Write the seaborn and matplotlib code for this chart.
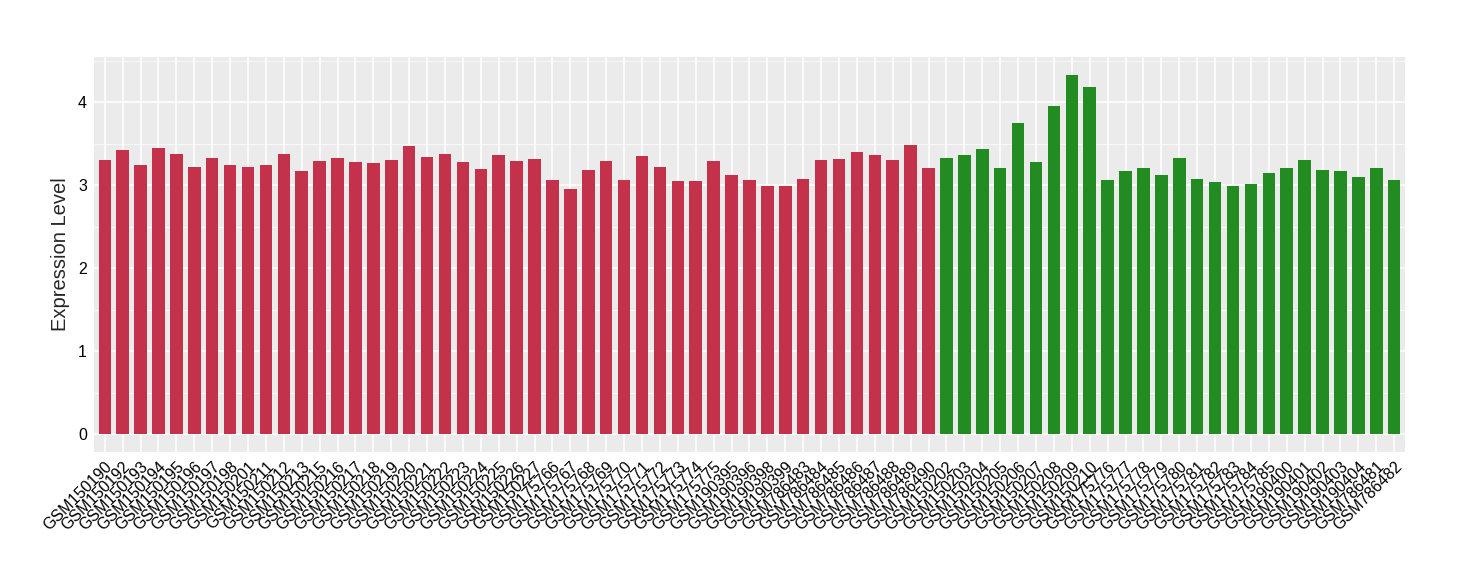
import pandas as pd
import matplotlib
matplotlib.use("Agg")
import matplotlib.pyplot as plt
import seaborn as sns
from matplotlib.ticker import MultipleLocator

red_samples = ["GSM150190", "GSM150192", "GSM150193", "GSM150194", "GSM150195",
               "GSM150196", "GSM150197", "GSM150198", "GSM150201", "GSM150211",
               "GSM150212", "GSM150213", "GSM150215", "GSM150216", "GSM150217",
               "GSM150218", "GSM150219", "GSM150220", "GSM150221", "GSM150222",
               "GSM150223", "GSM150224", "GSM150225", "GSM150226", "GSM150227",
               "GSM175766", "GSM175767", "GSM175768", "GSM175769", "GSM175770",
               "GSM175771", "GSM175772", "GSM175773", "GSM175774", "GSM175775",
               "GSM190395", "GSM190396", "GSM190398", "GSM190399",
               "GSM786483", "GSM786484", "GSM786485", "GSM786486", "GSM786487",
               "GSM786488", "GSM786489", "GSM786490"]
red_values = [3.30, 3.42, 3.25, 3.45, 3.38, 3.22, 3.33, 3.24, 3.22, 3.24,
              3.38, 3.17, 3.29, 3.33, 3.28, 3.27, 3.30, 3.47, 3.34, 3.38,
              3.28, 3.20, 3.37, 3.29, 3.32, 3.06, 2.96, 3.19, 3.29, 3.06,
              3.35, 3.22, 3.05, 3.05, 3.29, 3.12, 3.06, 2.99, 2.99,
              3.08, 3.31, 3.32, 3.40, 3.37, 3.30, 3.49, 3.21]

green_samples = ["GSM150202", "GSM150203", "GSM150204", "GSM150205", "GSM150206",
                 "GSM150207", "GSM150208", "GSM150209", "GSM150210",
                 "GSM175776", "GSM175777", "GSM175778", "GSM175779", "GSM175780",
                 "GSM175781", "GSM175782", "GSM175783", "GSM175784", "GSM175785",
                 "GSM190400", "GSM190401", "GSM190402", "GSM190403", "GSM190404",
                 "GSM786481", "GSM786482"]
green_values = [3.33, 3.36, 3.44, 3.21, 3.75, 3.28, 3.96, 4.33, 4.19,
                3.06, 3.17, 3.21, 3.12, 3.33, 3.07, 3.04, 2.99, 3.01, 3.15,
                3.21, 3.30, 3.19, 3.17, 3.10, 3.21, 3.06]

df = pd.DataFrame({
    "Sample": red_samples + green_samples,
    "Expression": red_values + green_values,
    "Group": ["A"] * len(red_samples) + ["B"] * len(green_samples),
})

sns.set_style("darkgrid", {"axes.facecolor": "#EBEBEB", "grid.color": "white"})
plt.rcParams["font.family"] = ["Liberation Sans", "DejaVu Sans"]

fig = plt.figure(figsize=(14.6, 5.8), dpi=100)
ax = fig.add_axes([0.0644, 0.2207, 0.8979, 0.681])

sns.barplot(data=df, x="Sample", y="Expression", hue="Group",
            order=df["Sample"], palette={"A": "#C3314A", "B": "#228B22"},
            dodge=False, width=0.7, legend=False, saturation=1,
            linewidth=0, edgecolor="none", ax=ax)

ax.set_xlim(-0.6, len(df) - 0.4)
ax.set_ylim(-0.2165, 4.5465)
ax.yaxis.set_major_locator(MultipleLocator(1))
ax.yaxis.set_minor_locator(MultipleLocator(0.5))
ax.grid(True, which="major", color="white", linewidth=1.1)
ax.grid(True, which="minor", axis="y", color="white", linewidth=0.5)
ax.set_axisbelow(True)
for s in ax.spines.values():
    s.set_visible(False)

ax.tick_params(axis="both", which="major", length=3, width=0.8, color="#333333",
               labelsize=11.5, labelcolor="black", pad=2)
ax.tick_params(axis="both", which="minor", length=0)
plt.setp(ax.get_xticklabels(), rotation=45, ha="right", rotation_mode="anchor")

ax.set_xlabel("")
ax.set_ylabel("Expression Level", fontsize=14.5, labelpad=6)

fig.savefig("out.png", dpi=100)
